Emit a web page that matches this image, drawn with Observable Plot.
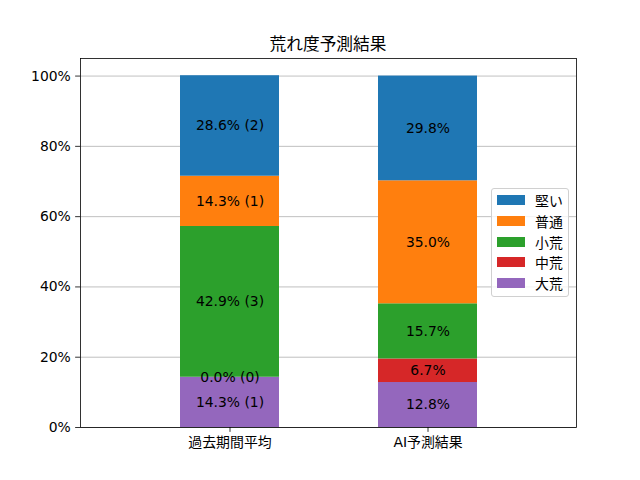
<!DOCTYPE html>
<html>
<head>
<meta charset="utf-8">
<script src="https://cdn.jsdelivr.net/npm/d3@7"></script>
<script src="https://cdn.jsdelivr.net/npm/@observablehq/plot@0.6"></script>
<style>
  html, body { margin: 0; padding: 0; background: #fff; }
  #wrap { position: relative; width: 640px; height: 480px; font-family: "DejaVu Sans", "Noto Sans CJK JP", sans-serif; }
  #title { position: absolute; left: 80px; width: 496px; top: 33px; text-align: center; font-size: 16.7px; line-height: 20px; color: #000; font-family: "Noto Sans CJK JP", sans-serif; }
  #legend { position: absolute; left: 491px; top: 188px; width: 76px; height: 107px; border: 1px solid #d0d0d0; border-radius: 3px; background: rgba(255,255,255,0.8); box-sizing: content-box; }
  .row { position: absolute; left: 5px; height: 20px; display: flex; align-items: center; font-size: 13.9px; color: #000; font-family: "Noto Sans CJK JP", sans-serif; }
  .sw { width: 28px; height: 10px; margin-right: 10px; }
  svg text { font-family: "DejaVu Sans", "Noto Sans CJK JP", sans-serif; }
</style>
</head>
<body>
<div id="wrap">
  <div id="chart"></div>
  <div id="title">荒れ度予測結果</div>
  <div id="legend"></div>
</div>
<script>
const categories = ["過去期間平均", "AI予測結果"];
const series = ["大荒", "中荒", "小荒", "普通", "堅い"]; // bottom to top
const pastValues = [14.3, 0.0, 42.9, 14.3, 28.6];
const pastCounts = [1, 0, 3, 1, 2];
const aiValues = [12.8, 6.7, 15.7, 35.0, 29.8];
const colors = ["#9467bd", "#d62728", "#2ca02c", "#ff7f0e", "#1f77b4"];
const yTicks = [0, 20, 40, 60, 80, 100];

const rows = [];
function addRows(cat, values, counts) {
  let acc = 0;
  values.forEach((v, i) => {
    const y1 = acc, y2 = acc + v;
    acc = y2;
    const label = v.toFixed(1) + "%" + (counts ? " (" + counts[i] + ")" : "");
    rows.push({cat, series: series[i], y1, y2, mid: (y1 + y2) / 2, label});
  });
}
addRows(categories[0], pastValues, pastCounts);
addRows(categories[1], aiValues, null);

const plot = Plot.plot({
  width: 640,
  height: 480,
  marginLeft: 80,
  marginRight: 64,
  marginTop: 58,
  marginBottom: 53,
  style: {fontFamily: "'DejaVu Sans', 'Noto Sans CJK JP', sans-serif", fontSize: "13.9px", color: "#000", background: "#fff"},
  x: {type: "band", domain: categories, padding: 0.5, align: 0.5, label: null},
  y: {domain: [0, 105], label: null},
  color: {domain: series, range: colors},
  marks: [
    Plot.gridY(yTicks, {stroke: "#b0b0b0", strokeOpacity: 1, strokeWidth: 0.8}),
    Plot.barY(rows, {x: "cat", y1: "y1", y2: "y2", fill: "series", inset: 0}),
    Plot.text(rows, {x: "cat", y: "mid", text: "label", fill: "#000", fontSize: 13.9}),
    Plot.axisY(yTicks, {tickFormat: d => d + "%", tickSize: 4.86, tickPadding: 4.86, fontSize: 13.9, stroke: "#000", strokeWidth: 0.8, label: null}),
    Plot.axisX(categories, {tickSize: 4.86, tickPadding: 4.86, fontSize: 13.9, stroke: "#000", strokeWidth: 0.8, label: null}),
    Plot.frame({stroke: "#000", strokeWidth: 0.8})
  ]
});
document.getElementById("chart").appendChild(plot);

const legend = document.getElementById("legend");
const order = series.slice().reverse();
order.forEach((s, i) => {
  const r = document.createElement("div");
  r.className = "row";
  r.style.top = (1 + i * 20.8) + "px";
  const sw = document.createElement("div");
  sw.className = "sw";
  sw.style.background = colors[series.indexOf(s)];
  r.appendChild(sw);
  const t = document.createElement("span");
  t.textContent = s;
  r.appendChild(t);
  legend.appendChild(r);
});
</script>
</body>
</html>
